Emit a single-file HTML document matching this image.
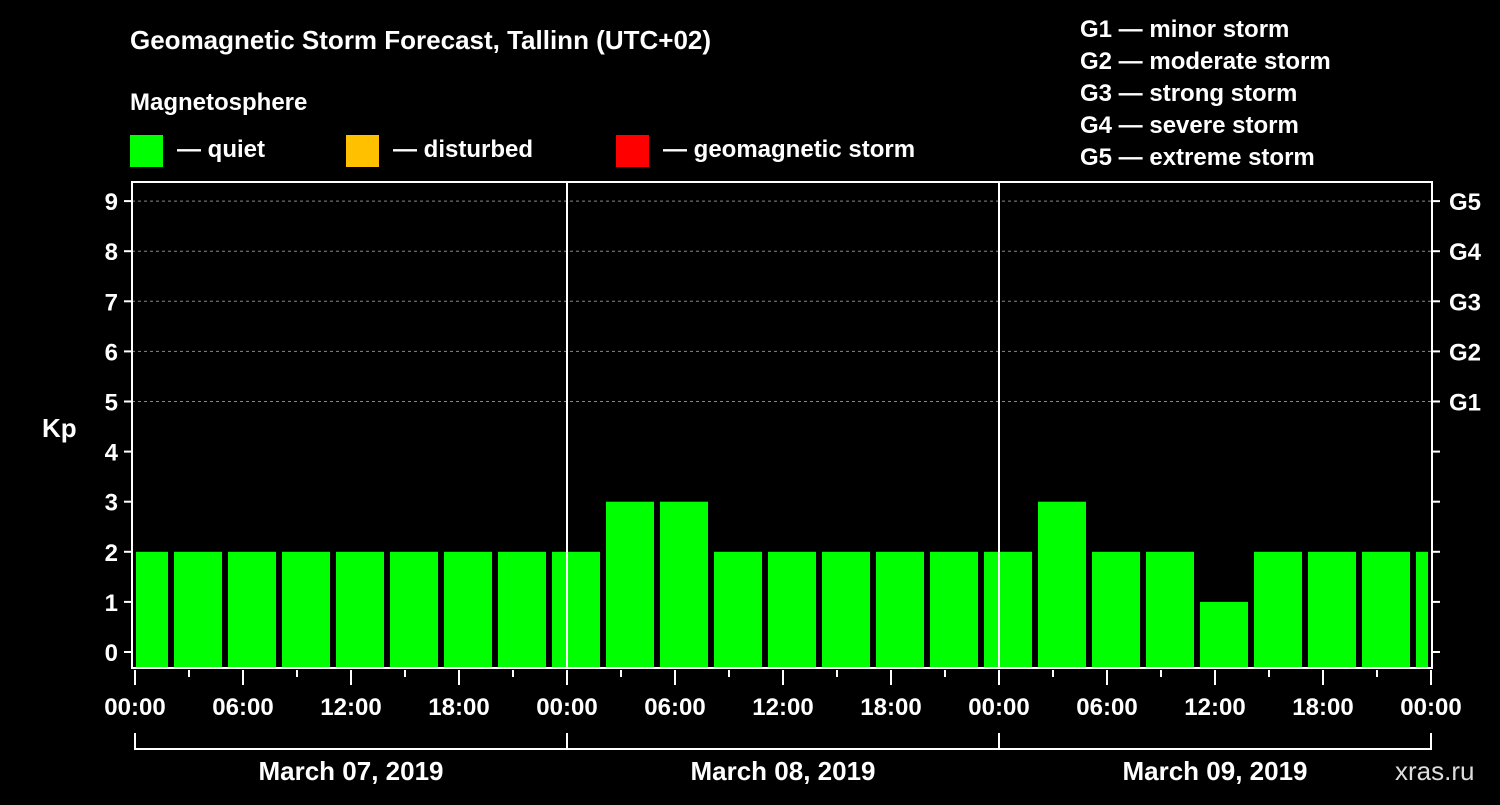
<!DOCTYPE html>
<html><head><meta charset="utf-8"><style>
body{margin:0;background:#000;width:1500px;height:800px;overflow:hidden}
svg text{font-family:"Liberation Sans",sans-serif;font-weight:bold;fill:#fff}
</style></head><body>
<svg id="c" width="1500" height="800">
<text x="130" y="49" font-size="26">Geomagnetic Storm Forecast, Tallinn (UTC+02)</text>
<text x="130" y="110" font-size="24">Magnetosphere</text>
<rect x="130" y="135" width="33" height="32" fill="#00ff00"/>
<text x="177" y="157" font-size="24">— quiet</text>
<rect x="346" y="135" width="33" height="32" fill="#ffc000"/>
<text x="393" y="157" font-size="24">— disturbed</text>
<rect x="616" y="135" width="33" height="32" fill="#ff0000"/>
<text x="663" y="157" font-size="24">— geomagnetic storm</text>
<g font-size="24">
<text x="1080" y="37">G1 — minor storm</text>
<text x="1080" y="69">G2 — moderate storm</text>
<text x="1080" y="101">G3 — strong storm</text>
<text x="1080" y="133">G4 — severe storm</text>
<text x="1080" y="165">G5 — extreme storm</text>
</g>
<text x="42" y="437" font-size="26">Kp</text>
<text x="1395" y="780" font-size="26" fill="#fff" style="font-weight:normal;fill:#ddd">xras.ru</text>
<g id="g"></g>
</svg>
<script>
const kpValues=[2,2,2,2,2,2,2,2,2,3,3,2,2,2,2,2,2,3,2,2,1,2,2,2,2];
const dayLabels=["March 07, 2019","March 08, 2019","March 09, 2019"];
const hourLabels=["00:00","06:00","12:00","18:00"];
const gLabels=["G1","G2","G3","G4","G5"];
const NS="http://www.w3.org/2000/svg",g=document.getElementById('g');
const x0=135,pxH=18,y=v=>652-v*50.1,L=132,R=1432,T=182,B=668;
const X=h=>x0+h*pxH;
function mk(t,a,txt){const e=document.createElementNS(NS,t);for(const k in a)e.setAttribute(k,a[k]);if(txt!==undefined)e.textContent=txt;g.appendChild(e);return e;}
// grid
for(let v=5;v<=9;v++){const e=mk('line',{x1:L,x2:R,y1:y(v),y2:y(v),stroke:'#888','stroke-dasharray':'3,3','stroke-width':1});

}
// bars
kpValues.forEach((v,i)=>{const c=X(0.5+3*i);let a=Math.max(c-24,L+4),b=Math.min(c+24,R-4);
const col=v>=5?'#ff0000':v>=4?'#ffc000':'#00ff00';
const e=mk('rect',{x:a,y:y(v),width:b-a,height:B-y(v),fill:col});

});
// day separators
for(let d=1;d<3;d++){const e=mk('line',{x1:X(24*d),x2:X(24*d),y1:T,y2:B,stroke:'#fff','stroke-width':2});

}
// frame
const f=mk('rect',{x:L,y:T,width:R-L,height:B-T,fill:'none',stroke:'#fff','stroke-width':2});


// y ticks
for(let v=0;v<=9;v++){mk('line',{x1:L-8,x2:L,y1:y(v),y2:y(v),stroke:'#fff','stroke-width':2});
mk('line',{x1:R,x2:R+8,y1:y(v),y2:y(v),stroke:'#fff','stroke-width':2});
const t=mk('text',{x:L-14,y:y(v)+9,'font-size':24,'text-anchor':'end'},v);

}
gLabels.forEach((s,i)=>{const t=mk('text',{x:1449,y:y(5+i)+9,'font-size':24},s);

});
// x ticks
for(let h=0;h<=72;h+=3){const maj=h%6==0;mk('line',{x1:X(h),x2:X(h),y1:B+2,y2:B+(maj?17:9),stroke:'#fff','stroke-width':2});
if(maj&&h%24==0||h%6==0){const t=mk('text',{x:X(h),y:715,'font-size':24,'text-anchor':'middle'},hourLabels[(h%24)/6]);

}}
// day brackets
dayLabels.forEach((s,d)=>{const a=X(24*d),b=X(24*(d+1));
mk('path',{d:`M${a} 733V749H${b}V733`,fill:'none',stroke:'#fff','stroke-width':2});
const t=mk('text',{x:(a+b)/2,y:780,'font-size':26,'text-anchor':'middle'},s);

});
</script>
</body></html>
